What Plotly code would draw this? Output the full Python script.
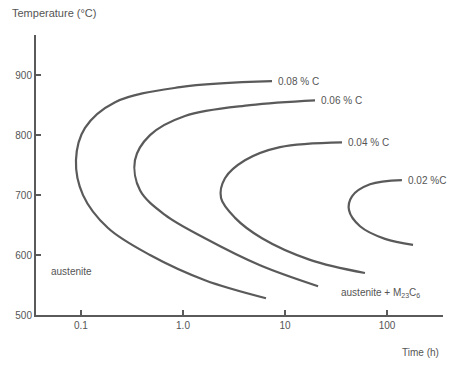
import math
import plotly.graph_objects as go

# C-curves (time in hours, temperature in °C)
t_008 = [7.46, 0.935, 0.216, 0.1095, 0.0893, 0.1047, 0.184, 0.475, 1.643, 6.51]
T_008 = [890, 880, 855, 812, 758, 700, 645, 600, 558, 528]

t_006 = [19.7, 4.54, 1.046, 0.475, 0.338, 0.379, 0.666, 1.643, 5.69, 21.1]
T_006 = [858, 850, 832, 800, 758, 708, 667, 628, 583, 548]

t_004 = [36.2, 8.93, 4.05, 2.58, 2.36, 3.24, 5.95, 17.6, 60.8]
T_004 = [788, 780, 758, 728, 695, 662, 628, 592, 570]

t_002 = [140, 68.1, 45.4, 42.4, 54.4, 95.5, 180]
T_002 = [725, 718, 698, 675, 648, 627, 617]

curve_labels = ["0.08 % C", "0.06 % C", "0.04 % C", "0.02 %C"]

x_tickvals = [0.1, 1, 10, 100]
x_ticktext = ["0.1", "1.0", "10", "100"]
y_tickvals = [500, 600, 700, 800, 900]
y_ticktext = ["500", "600", "700", "800", "900"]

LINE = "#5a5a5a"
TXT = "#555555"
FONT = "Liberation Sans Narrow, Liberation Sans, Arial"

fig = go.Figure()
curves = [(t_008, T_008), (t_006, T_006), (t_004, T_004), (t_002, T_002)]
for (t, T), lab in zip(curves, curve_labels):
    fig.add_trace(go.Scatter(x=t, y=T, mode="lines",
                             line=dict(color=LINE, width=2.2, shape="spline", smoothing=1.0),
                             hoverinfo="skip", showlegend=False))
    fig.add_annotation(x=math.log10(t[0]), y=T[0], text=lab,
                       showarrow=False, xanchor="left", yanchor="middle", xshift=4,
                       font=dict(size=10, color=TXT, family=FONT))

fig.add_annotation(x=math.log10(0.049), y=573, text="austenite",
                   showarrow=False, xanchor="left", yanchor="middle",
                   font=dict(size=10, color=TXT, family=FONT))
fig.add_annotation(x=math.log10(34), y=536,
                   text="austenite + M<sub>23</sub>C<sub>6</sub>",
                   showarrow=False, xanchor="left", yanchor="middle",
                   font=dict(size=10, color=TXT, family=FONT))

fig.update_layout(
    width=456, height=366,
    margin=dict(l=36, r=13, t=35, b=51),
    paper_bgcolor="white", plot_bgcolor="white",
    font=dict(family=FONT, size=10, color=TXT),
    xaxis=dict(type="log", range=[-1.441, 2.549], tickvals=x_tickvals, ticktext=x_ticktext,
               showgrid=False, zeroline=False, showline=True, linecolor=LINE, linewidth=2,
               ticks="inside", ticklen=5, tickwidth=2, tickcolor=LINE,
               tickfont=dict(size=10, color=TXT, family=FONT)),
    yaxis=dict(range=[500, 967], tickvals=y_tickvals, ticktext=y_ticktext,
               showgrid=False, zeroline=False, showline=True, linecolor=LINE, linewidth=2,
               ticks="inside", ticklen=5, tickwidth=2, tickcolor=LINE,
               tickfont=dict(size=10, color=TXT, family=FONT)),
)

fig.add_annotation(xref="paper", yref="paper", x=-0.065, y=1.0, yshift=14,
                   text="Temperature (°C)", showarrow=False, xanchor="left", yanchor="bottom",
                   font=dict(size=11, color=TXT, family=FONT))
fig.add_annotation(xref="paper", yref="paper", x=0.995, y=0, yshift=-30,
                   text="Time (h)", showarrow=False, xanchor="right", yanchor="top",
                   font=dict(size=10, color=TXT, family=FONT))

fig.write_html("out.html")
